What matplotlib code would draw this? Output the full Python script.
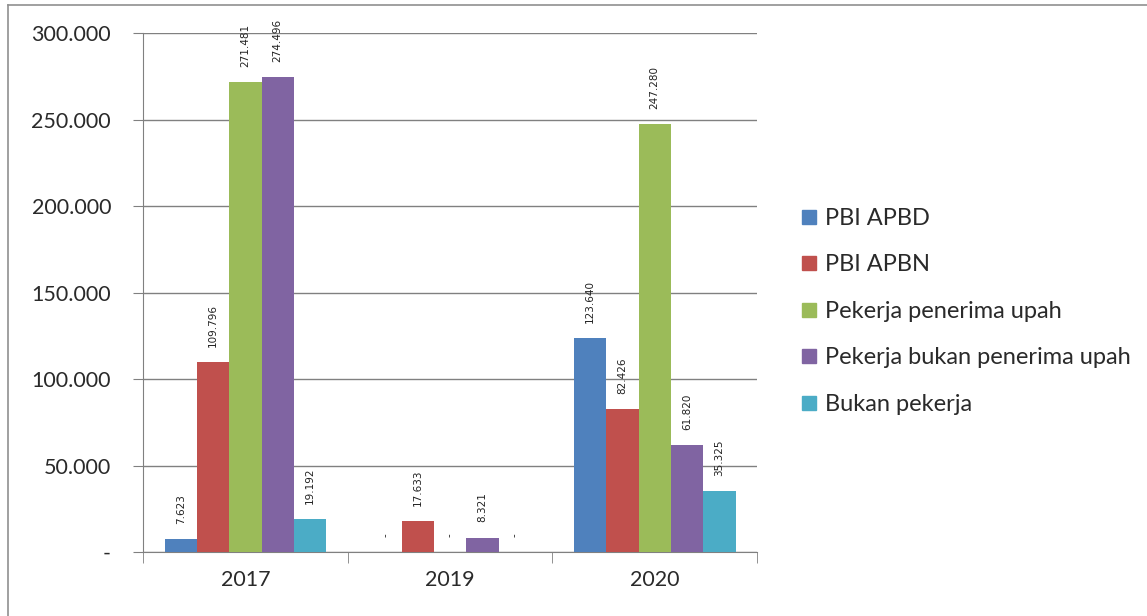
import numpy as np
import matplotlib.pyplot as plt
from matplotlib.lines import Line2D

plt.rcParams['font.family'] = ['Lato', 'DejaVu Sans']

years = ['2017', '2019', '2020']
series = ['PBI APBD', 'PBI APBN', 'Pekerja penerima upah',
          'Pekerja bukan penerima upah', 'Bukan pekerja']
pbi_apbd = [7623, 0, 123640]
pbi_apbn = [109796, 17633, 82426]
penerima_upah = [271481, 0, 247280]
bukan_penerima_upah = [274496, 8321, 61820]
bukan_pekerja = [19192, 0, 35325]
colors = ['#4F81BD', '#C0504D', '#9BBB59', '#8064A2', '#4BACC6']


def fmt_id(v):
    # Indonesian style: dot as thousands separator, dash for zero
    if v == 0:
        return '-'
    return f'{v:,.0f}'.replace(',', '.')


values = [pbi_apbd, pbi_apbn, penerima_upah, bukan_penerima_upah, bukan_pekerja]

fig = plt.figure(figsize=(11.47, 6.16), dpi=100)
ax = fig.add_axes([0.1247, 0.1039, 0.5353, 0.8425])

x = np.arange(len(years))
w = 0.158
for i, (name, vals, c) in enumerate(zip(series, values, colors)):
    pos = x + (i - 2) * w
    ax.bar(pos, vals, width=w, color=c, label=name, zorder=3)
    for px, v in zip(pos, vals):
        ax.annotate(fmt_id(v), (px, v), xytext=(0, 11), textcoords='offset points',
                    rotation=90, ha='center', va='bottom', fontsize=7.5,
                    color='#222222', family='DejaVu Sans', zorder=4)

ax.set_xlim(-0.5, 2.5)
ax.set_ylim(0, 300000)
ax.set_yticks(np.arange(0, 300001, 50000))
ax.set_yticklabels([fmt_id(v) for v in np.arange(0, 300001, 50000)],
                   fontsize=15.5, color='#2a2a2a')
ax.yaxis.grid(True, color='#808080', linewidth=1, zorder=0)

ax.set_xticks(x)
ax.set_xticklabels(years, fontsize=15.5, color='#2a2a2a')
ax.tick_params(axis='x', length=0, pad=13)
ax.set_xticks([-0.5, 0.5, 1.5, 2.5], minor=True)
ax.tick_params(axis='x', which='minor', length=8, color='#808080')
ax.tick_params(axis='y', length=7, color='#808080', pad=16)

for s in ['top', 'right']:
    ax.spines[s].set_visible(False)
for s in ['left', 'bottom']:
    ax.spines[s].set_color('#808080')

handles = [Line2D([], [], marker='s', linestyle='none', markersize=10,
                  markerfacecolor=c, markeredgecolor=c) for c in colors]
leg = fig.legend(handles, series, loc='upper left', bbox_to_anchor=(0.68, 0.697),
                 frameon=False, fontsize=17, handlelength=0.7, handletextpad=0.3,
                 labelspacing=1.08)
for t in leg.get_texts():
    t.set_color('#2a2a2a')

# outer chart border
fig.add_artist(Line2D([0.007, 1.0], [0.992, 0.992], transform=fig.transFigure,
                      color='#909090', linewidth=1.2))
fig.add_artist(Line2D([0.007, 0.007], [0.0, 0.992], transform=fig.transFigure,
                      color='#909090', linewidth=1.2))

fig.savefig('out.png', dpi=100)
